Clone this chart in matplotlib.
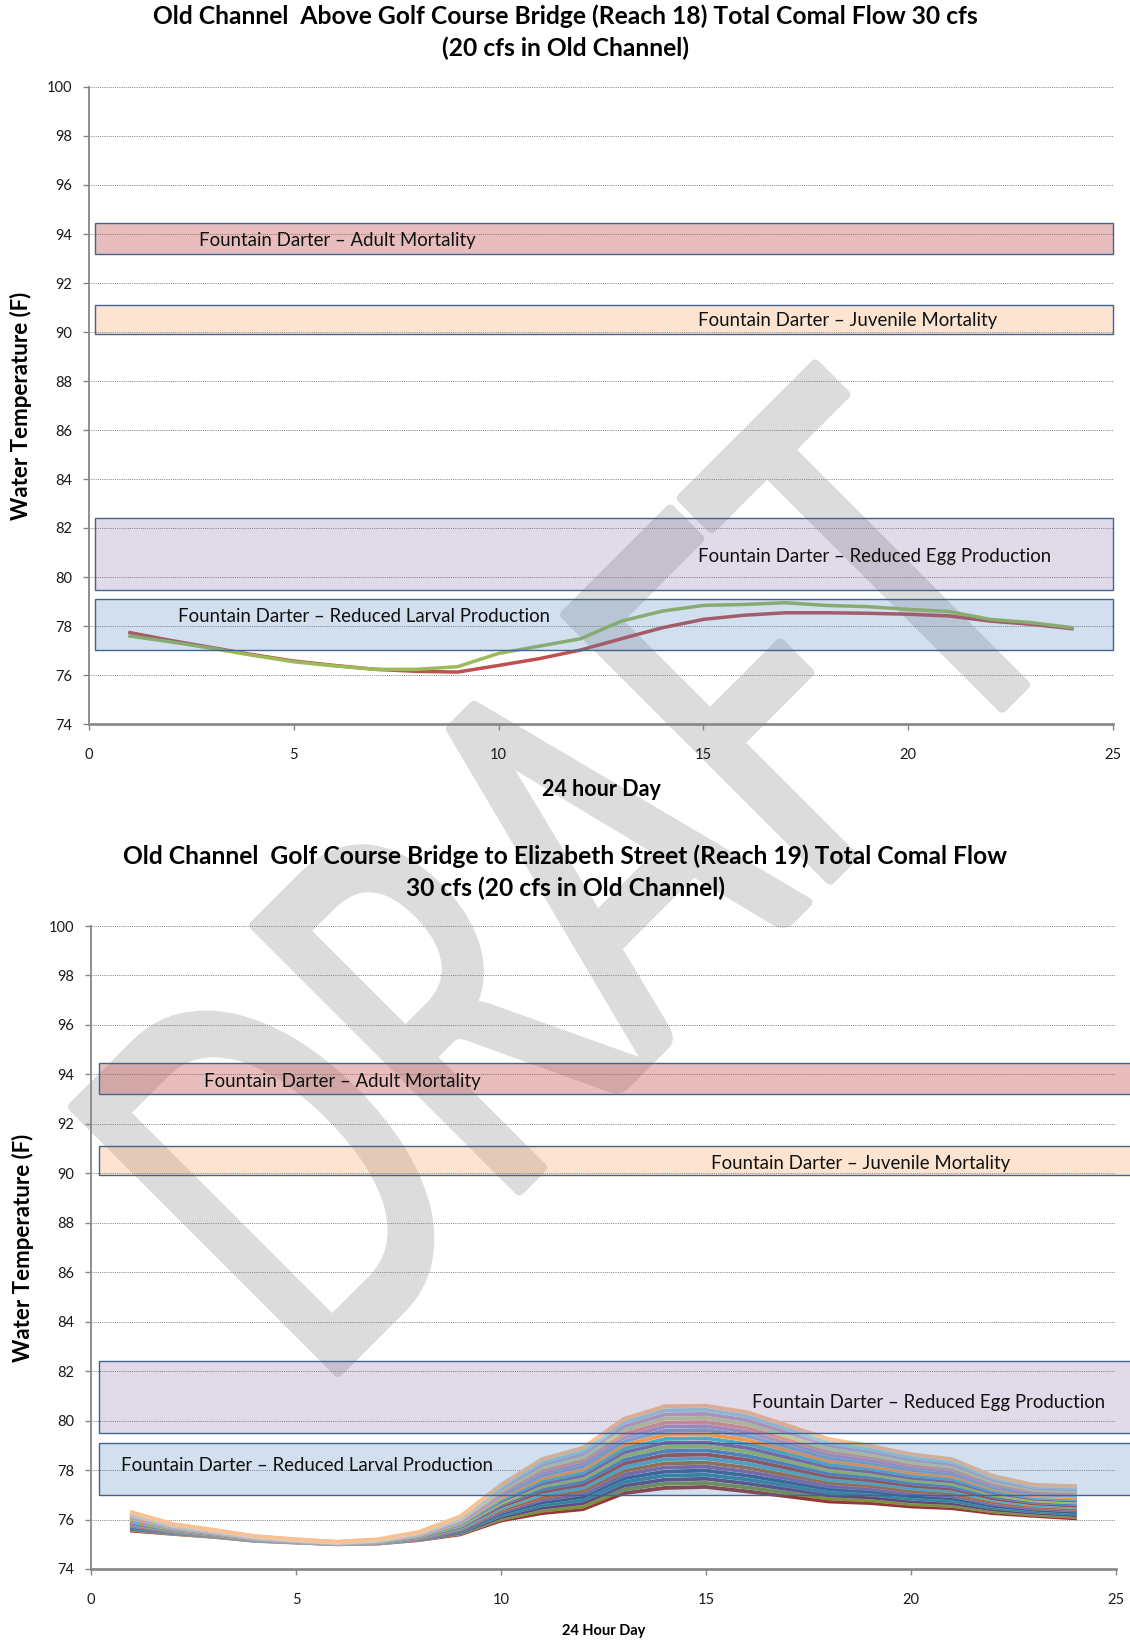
"""Comal old channel water temperature charts (Reach 18 and Reach 19, 30 cfs)."""

import matplotlib
matplotlib.use("Agg")
import matplotlib.pyplot as plt
from matplotlib import patheffects
from matplotlib.font_manager import FontProperties
from matplotlib.patches import PathPatch, Rectangle
from matplotlib.textpath import TextPath
from matplotlib.transforms import Affine2D, IdentityTransform

plt.rcParams["font.family"] = ["Lato", "DejaVu Sans"]

hours = list(range(1, 25))

# Reach 18 - two model runs
reach18_red = [77.73, 77.41, 77.12, 76.83, 76.57, 76.39, 76.23, 76.15, 76.12, 76.39,
               76.67, 77.02, 77.48, 77.93, 78.27, 78.44, 78.54, 78.54, 78.52, 78.48,
               78.41, 78.20, 78.07, 77.89]
reach18_green = [77.59, 77.35, 77.09, 76.80, 76.54, 76.37, 76.23, 76.23, 76.34, 76.88,
                 77.18, 77.48, 78.20, 78.61, 78.84, 78.88, 78.95, 78.84, 78.79, 78.68,
                 78.59, 78.27, 78.14, 77.93]

# Reach 19 - one row per model run, coolest first
reach19_runs = [
    [75.55, 75.42, 75.30, 75.14, 75.07, 75.00, 75.03, 75.17, 75.40, 75.96, 76.26, 76.42, 77.07, 77.28, 77.32, 77.14, 76.94, 76.73, 76.67, 76.53, 76.46, 76.26, 76.15, 76.05],
    [75.59, 75.44, 75.31, 75.15, 75.08, 75.01, 75.04, 75.19, 75.44, 76.03, 76.37, 76.54, 77.22, 77.45, 77.48, 77.30, 77.08, 76.86, 76.79, 76.64, 76.56, 76.34, 76.21, 76.12],
    [75.62, 75.46, 75.33, 75.16, 75.08, 75.01, 75.05, 75.20, 75.47, 76.10, 76.48, 76.67, 77.37, 77.61, 77.65, 77.46, 77.23, 76.98, 76.90, 76.74, 76.66, 76.41, 76.28, 76.18],
    [75.66, 75.48, 75.34, 75.17, 75.09, 75.02, 75.06, 75.22, 75.51, 76.18, 76.59, 76.79, 77.52, 77.78, 77.81, 77.62, 77.37, 77.11, 77.02, 76.85, 76.76, 76.49, 76.34, 76.25],
    [75.70, 75.50, 75.36, 75.18, 75.10, 75.02, 75.06, 75.24, 75.54, 76.25, 76.70, 76.92, 77.67, 77.94, 77.98, 77.78, 77.51, 77.23, 77.13, 76.95, 76.86, 76.56, 76.40, 76.31],
    [75.74, 75.52, 75.37, 75.19, 75.10, 75.03, 75.07, 75.25, 75.58, 76.32, 76.81, 77.04, 77.82, 78.11, 78.14, 77.94, 77.66, 77.36, 77.25, 77.06, 76.96, 76.64, 76.46, 76.38],
    [75.77, 75.54, 75.38, 75.20, 75.11, 75.03, 75.08, 75.27, 75.62, 76.39, 76.91, 77.16, 77.97, 78.27, 78.30, 78.10, 77.80, 77.49, 77.36, 77.16, 77.05, 76.71, 76.53, 76.44],
    [75.81, 75.56, 75.40, 75.21, 75.12, 75.04, 75.09, 75.29, 75.65, 76.46, 77.02, 77.29, 78.12, 78.44, 78.47, 78.26, 77.94, 77.61, 77.48, 77.27, 77.15, 76.79, 76.59, 76.51],
    [75.85, 75.58, 75.41, 75.22, 75.12, 75.04, 75.10, 75.30, 75.69, 76.54, 77.13, 77.41, 78.27, 78.60, 78.63, 78.42, 78.08, 77.74, 77.59, 77.37, 77.25, 76.86, 76.65, 76.57],
    [75.88, 75.60, 75.43, 75.23, 75.13, 75.05, 75.11, 75.32, 75.72, 76.61, 77.24, 77.54, 78.42, 78.77, 78.80, 78.58, 78.23, 77.86, 77.71, 77.48, 77.35, 76.94, 76.71, 76.64],
    [75.92, 75.62, 75.44, 75.24, 75.14, 75.05, 75.12, 75.34, 75.76, 76.68, 77.35, 77.66, 78.57, 78.93, 78.96, 78.74, 78.37, 77.99, 77.83, 77.59, 77.45, 77.01, 76.78, 76.70],
    [75.96, 75.64, 75.45, 75.24, 75.14, 75.06, 75.12, 75.35, 75.80, 76.75, 77.46, 77.78, 78.72, 79.10, 79.12, 78.90, 78.51, 78.12, 77.94, 77.69, 77.55, 77.09, 76.84, 76.77],
    [75.99, 75.66, 75.47, 75.25, 75.15, 75.06, 75.13, 75.37, 75.83, 76.82, 77.57, 77.91, 78.87, 79.26, 79.29, 79.06, 78.66, 78.24, 78.06, 77.80, 77.65, 77.16, 76.90, 76.83],
    [76.03, 75.68, 75.48, 75.26, 75.15, 75.07, 75.14, 75.38, 75.87, 76.90, 77.68, 78.03, 79.02, 79.43, 79.45, 79.22, 78.80, 78.37, 78.17, 77.90, 77.75, 77.24, 76.96, 76.90],
    [76.07, 75.70, 75.50, 75.27, 75.16, 75.07, 75.15, 75.40, 75.90, 76.97, 77.79, 78.16, 79.17, 79.59, 79.62, 79.38, 78.94, 78.49, 78.29, 78.01, 77.85, 77.31, 77.03, 76.96],
    [76.11, 75.72, 75.51, 75.28, 75.17, 75.08, 75.16, 75.42, 75.94, 77.04, 77.90, 78.28, 79.32, 79.76, 79.78, 79.54, 79.09, 78.62, 78.40, 78.11, 77.95, 77.39, 77.09, 77.03],
    [76.14, 75.74, 75.52, 75.29, 75.17, 75.08, 75.17, 75.43, 75.98, 77.11, 78.00, 78.40, 79.47, 79.92, 79.94, 79.70, 79.23, 78.75, 78.52, 78.22, 78.04, 77.46, 77.15, 77.09],
    [76.18, 75.76, 75.54, 75.30, 75.18, 75.09, 75.17, 75.45, 76.01, 77.18, 78.11, 78.53, 79.62, 80.09, 80.11, 79.86, 79.37, 78.87, 78.63, 78.32, 78.14, 77.54, 77.21, 77.16],
    [76.22, 75.78, 75.55, 75.31, 75.19, 75.09, 75.18, 75.47, 76.05, 77.26, 78.22, 78.65, 79.77, 80.25, 80.27, 80.02, 79.51, 79.00, 78.75, 78.43, 78.24, 77.61, 77.28, 77.22],
    [76.25, 75.80, 75.57, 75.32, 75.19, 75.09, 75.19, 75.48, 76.08, 77.33, 78.33, 78.78, 79.92, 80.42, 80.44, 80.18, 79.66, 79.12, 78.86, 78.53, 78.34, 77.69, 77.34, 77.29],
    [76.29, 75.82, 75.58, 75.33, 75.20, 75.10, 75.20, 75.50, 76.12, 77.40, 78.44, 78.90, 80.07, 80.58, 80.60, 80.34, 79.80, 79.25, 78.98, 78.64, 78.44, 77.76, 77.40, 77.35],
]
reach19_colors = ["#953735", "#77933C", "#604A7B", "#31859C", "#376092", "#8064A2",
                  "#A66A3A", "#4BACC6", "#9E4A48", "#4F81BD", "#9BBB59", "#8064A2",
                  "#4BACC6", "#F79646", "#7BA0CD", "#A593C0", "#D49593", "#B9CD96",
                  "#B3A2C7", "#93CDDD", "#FAC090"]

# Fountain darter thresholds (F)
band_names = ["Fountain Darter \u2013 Adult Mortality",
              "Fountain Darter \u2013 Juvenile Mortality",
              "Fountain Darter \u2013 Reduced Egg Production",
              "Fountain Darter \u2013 Reduced Larval Production"]
band_low = [93.2, 89.92, 79.48, 77.0]
band_high = [94.46, 91.1, 82.4, 79.1]
band_colors = [("#C0504D", 0.37), ("#F79646", 0.25), ("#8064A2", 0.23), ("#4F81BD", 0.25)]

W, H = 1130, 1644
fig = plt.figure(figsize=(W / 100, H / 100), dpi=100)

GRAY = "#868686"


def style_axes(ax, xlabel, xlabel_size):
    ax.set_facecolor("none")
    ax.set_xlim(0, 25)
    ax.set_ylim(74, 100)
    ax.set_xticks(range(0, 26, 5))
    ax.set_yticks(range(74, 101, 2))
    for side in ("top", "right"):
        ax.spines[side].set_visible(False)
    ax.spines["left"].set_color(GRAY)
    ax.spines["left"].set_linewidth(1.3)
    ax.spines["bottom"].set_color(GRAY)
    ax.spines["bottom"].set_linewidth(1.9)
    ax.tick_params(direction="out", length=4, width=1, color=GRAY,
                   labelsize=10.5, labelcolor="#1a1a1a")
    ax.tick_params(axis="x", pad=13)
    ax.tick_params(axis="y", pad=8)
    ax.yaxis.grid(True, color="#808080", linestyle=(0, (1, 1.2)), linewidth=0.7)
    ax.set_axisbelow(True)
    ax.set_ylabel("Water Temperature (F)", fontsize=16, fontweight="bold")
    ax.yaxis.set_label_coords(-0.056, 0.5)
    ax.set_xlabel(xlabel, fontsize=xlabel_size, fontweight="bold")
    ax.xaxis.set_label_coords(0.5, -0.086)


def draw_bands(ax, x0, x1, label_pos):
    for lo, hi, (col, a), name, (tx, ty) in zip(band_low, band_high, band_colors,
                                              band_names, label_pos):
        ax.add_patch(Rectangle((x0, lo), x1 - x0, hi - lo, facecolor=col, alpha=a,
                               edgecolor="none", zorder=3, clip_on=False))
        ax.add_patch(Rectangle((x0, lo), x1 - x0, hi - lo, facecolor="none",
                               edgecolor="#3F6496", linewidth=1.0, zorder=3.1,
                               clip_on=False))
        ax.text(tx, ty, name, fontsize=13.4, color="#111111", ha="left", va="center",
                zorder=4)


# Top: Reach 18
ax1 = fig.add_axes([89 / W, 1 - 724 / H, 1024 / W, 637 / H])
ax1.plot(hours, reach18_red, color="#C0504D", linewidth=2.5, zorder=2)
ax1.plot(hours, reach18_green, color="#9BBB59", linewidth=2.5, zorder=2)
draw_bands(ax1, 0.15, 25.0,
           [(2.69, 93.72), (14.87, 90.45), (14.87, 80.85), (2.18, 78.38)])
style_axes(ax1, "24 hour Day", 15.5)

# Bottom: Reach 19
ax2 = fig.add_axes([91 / W, 1 - 1569 / H, 1025 / W, 643 / H])
edge = [patheffects.Stroke(linewidth=3.1, foreground="white", alpha=0.45),
        patheffects.Normal()]
for run, col in zip(reach19_runs, reach19_colors):
    ax2.plot(hours, run, color=col, linewidth=2.8, zorder=2, path_effects=edge)
draw_bands(ax2, 0.2, 25.8,
           [(2.76, 93.72), (15.13, 90.38), (16.13, 80.75), (0.74, 78.2)])
style_axes(ax2, "24 Hour Day", 10.5)

fig.text(0.5, 1 - 32 / H,
         "Old Channel  Above Golf Course Bridge (Reach 18) Total Comal Flow 30 cfs\n"
         "(20 cfs in Old Channel)",
         ha="center", va="center", fontsize=17.7, fontweight="bold", linespacing=1.42)
fig.text(0.5, 1 - 872 / H,
         "Old Channel  Golf Course Bridge to Elizabeth Street (Reach 19) Total Comal Flow\n"
         "30 cfs (20 cfs in Old Channel)",
         ha="center", va="center", fontsize=17.7, fontweight="bold", linespacing=1.42)

# DRAFT watermark, laid under both charts
tp = TextPath((0, 0), "DRAFT", size=100, prop=FontProperties(family="Lato"))
bb = tp.get_extents()
mark = (Affine2D().translate(-bb.x0, -bb.y0)
        .scale(1050 / bb.width, 375 / bb.height)
        .rotate_deg(45)
        .translate(338, H - 1372))
fig.add_artist(PathPatch(mark.transform_path(tp), facecolor="#DCDCDC", edgecolor="#DCDCDC",
                         linewidth=7, joinstyle="round", capstyle="round",
                         transform=IdentityTransform(), zorder=-1))

fig.savefig("out.png", dpi=100)
plt.close(fig)
